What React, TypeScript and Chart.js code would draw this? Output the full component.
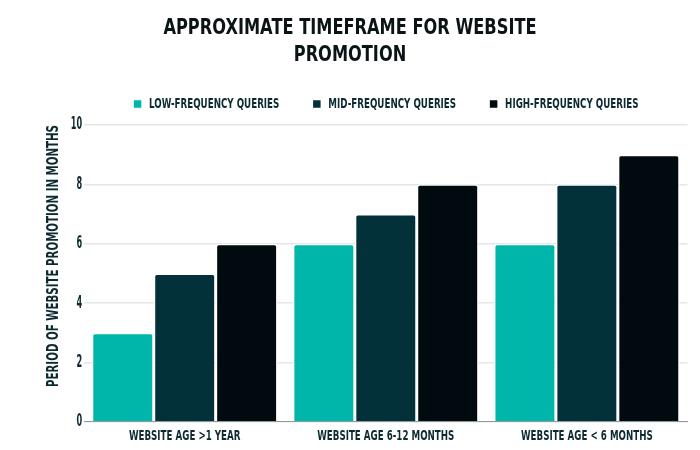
import React, { useEffect, useRef } from 'react';
import { Chart, registerables } from 'chart.js';

Chart.register(...registerables);

const categories = ['WEBSITE AGE >1 YEAR', 'WEBSITE AGE 6-12 MONTHS', 'WEBSITE AGE < 6 MONTHS'];
const lowFrequency = [3, 6, 6];
const midFrequency = [5, 7, 8];
const highFrequency = [6, 8, 9];
const yTicks = [0, 2, 4, 6, 8, 10];

const FONT = '"DejaVu Sans", sans-serif';
const TEXT = '#0c2a30';

// no condensed display font offline, so squeeze text horizontally per font size
const SQUEEZE: [number, number][] = [
  [21, 0.772], // title
  [17, 0.48], // y ticks
  [16, 0.64], // y title
  [14, 0.623], // legend
  [13.5, 0.645], // x ticks
];

const squeezeFor = (font: string) => {
  const m = /([\d.]+)px/.exec(font);
  const size = m ? parseFloat(m[1]) : 0;
  const hit = SQUEEZE.find(([s]) => Math.abs(s - size) < 0.01);
  return hit ? hit[1] : 1;
};

const App: React.FC = () => {
  const chartRef = useRef<HTMLCanvasElement>(null);
  const chartInstance = useRef<Chart | null>(null);

  useEffect(() => {
    if (!chartRef.current) return;
    const ctx = chartRef.current.getContext('2d');
    if (!ctx) return;

    const origFill = ctx.fillText.bind(ctx);
    const origMeasure = ctx.measureText.bind(ctx);
    (ctx as any).fillText = (text: string, x: number, y: number, maxWidth?: number) => {
      const k = squeezeFor(ctx.font);
      ctx.save();
      ctx.translate(x, y);
      ctx.scale(k, 1);
      if (maxWidth === undefined) origFill(text, 0, 0);
      else origFill(text, 0, 0, maxWidth / k);
      ctx.restore();
    };
    (ctx as any).measureText = (text: string) => {
      const m = origMeasure(text);
      const k = squeezeFor(ctx.font);
      return {
        width: m.width * k,
        actualBoundingBoxAscent: m.actualBoundingBoxAscent,
        actualBoundingBoxDescent: m.actualBoundingBoxDescent,
        actualBoundingBoxLeft: m.actualBoundingBoxLeft * k,
        actualBoundingBoxRight: m.actualBoundingBoxRight * k,
      };
    };

    const barStyle = {
      borderColor: '#ffffff',
      borderWidth: 1.5,
      borderRadius: 3,
      borderSkipped: 'bottom' as const,
      categoryPercentage: 0.924,
      barPercentage: 1,
    };

    chartInstance.current = new Chart(ctx, {
      type: 'bar',
      data: {
        labels: categories,
        datasets: [
          { label: 'LOW-FREQUENCY QUERIES', data: lowFrequency, backgroundColor: '#00b5a9', ...barStyle },
          { label: 'MID-FREQUENCY QUERIES', data: midFrequency, backgroundColor: '#02313a', ...barStyle },
          { label: 'HIGH-FREQUENCY QUERIES', data: highFrequency, backgroundColor: '#010a0e', ...barStyle },
        ],
      },
      options: {
        responsive: true,
        maintainAspectRatio: false,
        animation: false,
        layout: { padding: { left: 12.6, right: 12.6, top: 8, bottom: -2 } },
        scales: {
          x: {
            grid: { display: false, drawTicks: false },
            border: { color: '#8d9a9c', width: 1 },
            ticks: { color: TEXT, font: { family: FONT, size: 13.5, weight: 'bold' }, padding: 7 },
          },
          y: {
            min: 0,
            max: 10,
            afterBuildTicks: (axis) => {
              axis.ticks = yTicks.map((v) => ({ value: v }));
            },
            grid: { color: '#e3e7e7', lineWidth: 1.5, drawTicks: false },
            border: { display: false },
            ticks: { color: TEXT, font: { family: FONT, size: 17, weight: 'bold' }, padding: 2 },
            title: {
              display: true,
              text: 'PERIOD OF WEBSITE PROMOTION IN MONTHS',
              align: 'end',
              color: TEXT,
              font: { family: FONT, size: 16, weight: 'bold' },
              padding: { top: 32, bottom: 5 },
            },
          },
        },
        plugins: {
          title: {
            display: true,
            text: ['APPROXIMATE TIMEFRAME FOR WEBSITE', 'PROMOTION'],
            color: '#0a1417',
            font: { family: FONT, size: 21, weight: 'bold', lineHeight: 1.3 },
            padding: { top: 6.5, bottom: -5 },
          },
          legend: {
            position: 'top',
            fullSize: false,
            labels: {
              color: TEXT,
              font: { family: FONT, size: 14, weight: 'bold' },
              boxWidth: 9,
              boxHeight: 9,
              padding: 33,
              useBorderRadius: true,
              borderRadius: 1,
            },
          },
          tooltip: { enabled: false },
        },
      },
      plugins: [
        {
          id: 'legendHeight',
          beforeInit(chart: any) {
            const origFit = chart.legend.fit;
            chart.legend.fit = function () {
              origFit.bind(chart.legend)();
              this.height = 60.9;
            };
          },
        },
      ],
    });

    return () => {
      if (chartInstance.current) {
        chartInstance.current.destroy();
        chartInstance.current = null;
      }
    };
  }, []);

  return (
    <div style={{ position: 'absolute', left: 0, top: 0, width: 700, height: 450, background: '#fff' }}>
      <canvas ref={chartRef}></canvas>
    </div>
  );
};

export default App;
